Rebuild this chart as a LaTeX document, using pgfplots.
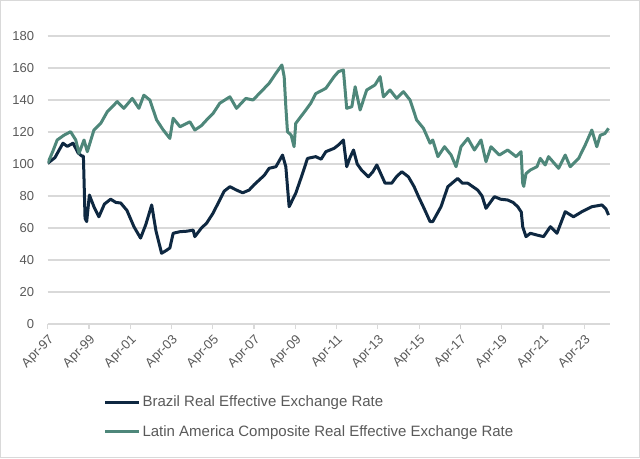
\documentclass[border=0pt]{standalone}
\usepackage{fontspec}
\setmainfont{Liberation Sans}
\usepackage{pgfplots}
\pgfplotsset{compat=1.18}
\definecolor{navy}{HTML}{0E2841}
\definecolor{tealc}{HTML}{4E877A}
\definecolor{txt}{HTML}{595959}
\definecolor{gridc}{HTML}{D9D9D9}
\begin{document}
\begin{tikzpicture}
\path[use as bounding box] (-47.7pt,-134pt) rectangle (592.3pt,324pt);
\draw[gridc, line width=1pt] (-47.2pt,-133.5pt) rectangle (591.8pt,323.5pt);
\begin{axis}[
  scale only axis, width=562.3pt, height=288pt,
  xmin=1997.25, xmax=2024.5, ymin=0, ymax=180,
  ytick={0,20,...,180},
  xtick={1997.25,1999.25,2001.25,2003.25,2005.25,2007.25,2009.25,2011.25,2013.25,2015.25,2017.25,2019.25,2021.25,2023.25},
  xticklabels={Apr-97,Apr-99,Apr-01,Apr-03,Apr-05,Apr-07,Apr-09,Apr-11,Apr-13,Apr-15,Apr-17,Apr-19,Apr-21,Apr-23},
  axis lines*=left,
  y axis line style={draw=none},
  x axis line style={draw=gridc, line width=1.2pt},
  ymajorgrids, grid style={draw=gridc, line width=1.2pt},
  major tick length=5pt, tick align=outside,
  ytick style={draw=none},
  xtick style={draw=gridc, line width=1.2pt},
  /pgf/number format/assume math mode=true,
  yticklabel style={font=\fontsize{13}{15}\selectfont, text=txt, xshift=-5pt},
  xticklabel style={font=\fontsize{13}{15}\selectfont, text=txt, rotate=45, anchor=north east},
  legend style={draw=none, fill=none, at={(0.099,-0.242)}, anchor=north west,
    font=\fontsize{15}{17}\selectfont, text=txt, inner xsep=0pt, inner ysep=0pt,
    row sep=13pt, cells={anchor=west}},
  legend cell align=left,
  legend image code/.code={\draw[#1] (0pt,0pt) -- (34pt,0pt);},
]
\addplot[navy, line width=3pt, line join=round] coordinates {
(1997.25,100.4)(1997.6,104)(1997.99,113)(1998.2,111)(1998.48,113)(1998.72,107)(1998.90,105)(1998.98,105)(1999.06,66)(1999.14,64)(1999.27,80.6)(1999.5,73)(1999.73,67)(2000.0,75)(2000.30,78)(2000.55,76)(2000.79,75.6)(2001.09,71)(2001.43,60.8)(2001.75,53.7)(2002.0,62)(2002.29,74.4)(2002.5,58)(2002.77,44.2)(2003.0,46)(2003.17,47.5)(2003.33,56.7)(2003.66,57.7)(2004.0,58)(2004.30,58.7)(2004.38,54.6)(2004.7,60)(2004.95,63)(2005.25,69)(2005.59,77.5)(2005.8,83)(2006.08,85.8)(2006.40,83.7)(2006.7,82)(2007.01,83.7)(2007.25,87)(2007.50,90)(2007.75,93)(2007.98,97.3)(2008.31,98.3)(2008.63,105.6)(2008.79,98.3)(2008.95,73.3)(2009.27,81.7)(2009.60,94)(2009.84,103.5)(2010.24,104.6)(2010.5,103)(2010.73,107.7)(2011.13,109.8)(2011.35,112)(2011.58,115)(2011.74,98.3)(2011.9,104)(2012.07,108.75)(2012.25,100)(2012.47,96)(2012.79,92)(2013.0,95)(2013.20,99.4)(2013.60,88)(2013.92,88)(2014.15,92)(2014.41,95.2)(2014.73,92)(2015.0,86)(2015.22,79.6)(2015.5,72)(2015.78,64)(2015.91,64)(2016.31,73.3)(2016.64,85.8)(2017.12,91)(2017.35,88)(2017.61,88)(2018.09,83.7)(2018.30,80)(2018.49,72.3)(2018.90,79.6)(2019.2,78)(2019.54,77.5)(2019.8,76)(2020.03,73.3)(2020.20,70)(2020.27,60.8)(2020.43,54.6)(2020.64,56.7)(2020.96,55.6)(2021.28,54.6)(2021.61,60.8)(2021.93,56.7)(2022.33,70.2)(2022.73,67)(2023.14,70.2)(2023.62,73.3)(2024.11,74.4)(2024.3,72)(2024.43,68.1)
};
\addlegendentry{Brazil Real Effective Exchange Rate}
\addplot[tealc, line width=3pt, line join=round] coordinates {
(1997.25,100.4)(1997.5,108)(1997.71,115)(1998.04,118)(1998.36,120.2)(1998.61,115)(1998.77,106.7)(1999.01,115)(1999.17,107.7)(1999.49,121.25)(1999.82,125.4)(2000.14,132.7)(2000.62,139)(2000.94,134.8)(2001.35,141)(2001.67,134.8)(2001.91,143)(2002.20,140)(2002.53,127.5)(2002.85,121.25)(2003.17,116)(2003.33,128.6)(2003.66,123.3)(2004.14,126.4)(2004.38,121.25)(2004.7,124)(2004.95,127.5)(2005.27,131.7)(2005.59,138)(2006.08,142)(2006.40,134.8)(2006.85,141)(2007.2,140)(2007.50,144)(2007.98,150.4)(2008.31,156.7)(2008.60,161.9)(2008.71,154.6)(2008.79,135.8)(2008.87,120.2)(2009.05,118)(2009.19,110.8)(2009.27,125.4)(2009.76,133.75)(2010.0,138)(2010.24,144)(2010.73,147.3)(2011.13,154.6)(2011.34,157.7)(2011.58,158.75)(2011.74,134.8)(2011.99,135.8)(2012.15,148.3)(2012.39,133.75)(2012.71,146.25)(2013.11,149.4)(2013.36,154.6)(2013.52,142)(2013.84,146.25)(2014.16,141)(2014.49,145.2)(2014.81,140)(2015.13,127.5)(2015.46,122.3)(2015.78,113)(2015.91,115)(2016.16,104.6)(2016.48,110.8)(2016.80,105.6)(2017.04,98.3)(2017.28,110.8)(2017.61,116)(2017.93,108.75)(2018.25,115)(2018.49,101.4)(2018.73,110.8)(2019.14,105.6)(2019.54,108.75)(2019.95,104.6)(2020.19,107.7)(2020.27,88)(2020.32,86)(2020.43,94)(2020.64,96.25)(2020.96,98.3)(2021.12,103.5)(2021.36,99.4)(2021.52,104.6)(2022.01,97.3)(2022.33,105.6)(2022.57,98.3)(2022.98,103.5)(2023.30,111.9)(2023.62,121.25)(2023.86,110.8)(2024.03,118)(2024.25,119)(2024.43,122.3)
};
\addlegendentry{Latin America Composite Real Effective Exchange Rate}
\end{axis}
\end{tikzpicture}
\end{document}
